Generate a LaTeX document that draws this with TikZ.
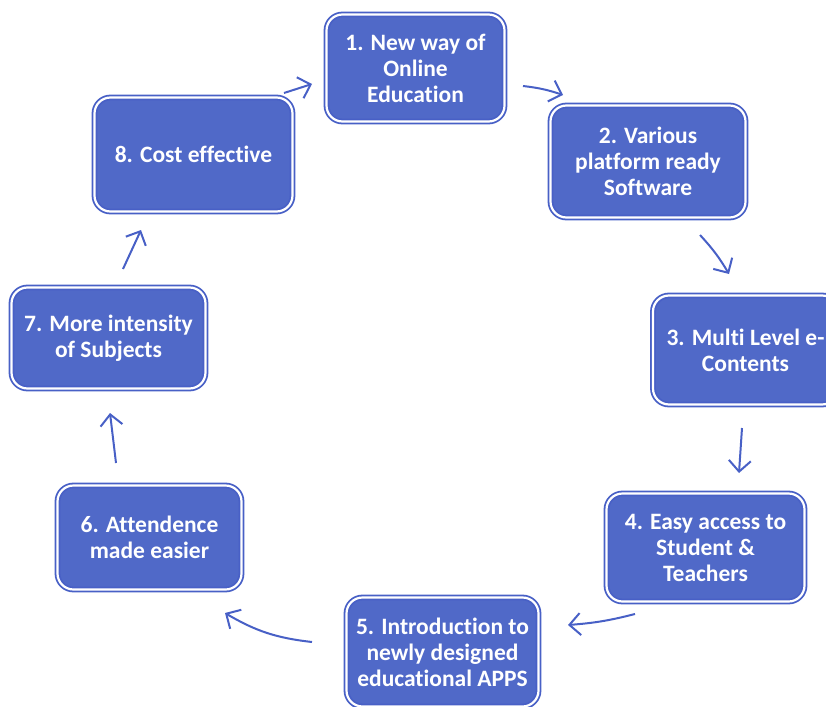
\documentclass[tikz,border=0pt]{standalone}
\usepackage{fontspec}
\setmainfont{Carlito}[RawFeature=-liga]
\usetikzlibrary{arrows.meta,calc}
\definecolor{boxblue}{RGB}{80,105,200}
\definecolor{lineblue}{RGB}{72,96,198}
\tikzset{
  stepbox/.style={rectangle, rounded corners=16pt, fill=boxblue, draw=lineblue,
    line width=1.8pt, double=white, double distance=2.2pt,
    text=white, align=center, inner sep=0pt,
    font=\fontsize{23.5}{26}\selectfont\bfseries},
  flow/.style={draw=lineblue, line width=2pt,
    -{Straight Barb[length=11pt,width=22pt,line width=2pt]}}
}
\begin{document}
\begin{tikzpicture}[x=1pt,y=-1pt]
\clip (0,0) rectangle (826,706);
\useasboundingbox (0,0) rectangle (826,706);
\node[stepbox, minimum width=178pt, minimum height=107pt] (n1) at (415.5,68) {1. New way of\\Online\\Education};
\node[stepbox, minimum width=195pt, minimum height=112pt] (n2) at (648,161.5) {2. Various\\platform ready\\Software};
\node[stepbox, minimum width=185pt, minimum height=109pt] (n3) at (745.5,350) {3. Multi Level e-\\Contents};
\node[stepbox, minimum width=198pt, minimum height=108pt] (n4) at (705.5,547.5) {4. Easy access to\\Student \&\\Teachers};
\node[stepbox, minimum width=192pt, minimum height=109pt] (n5) at (442.5,652) {5. Introduction to\\newly designed\\educational APPS};
\node[stepbox, minimum width=184pt, minimum height=104pt] (n6) at (149.5,537.5) {6. Attendence\\made easier};
\node[stepbox, minimum width=194pt, minimum height=101pt] (n7) at (108.5,338) {7. More intensity\\of Subjects};
\node[stepbox, minimum width=198pt, minimum height=114pt] (n8) at (193.5,154.5) {8. Cost effective};

\draw[flow] ($(n1.center)+(107.5,18)$) to[bend left=6] ($(n2.center)+(-85,-66.5)$);
\draw[flow] ($(n2.center)+(52,73.5)$) to[bend left=6] ($(n3.center)+(-16.5,-76)$);
\draw[flow] ($(n3.center)+(-3.5,78)$) to ($(n4.center)+(33.5,-74.5)$);
\draw[flow] ($(n4.center)+(-70.5,66.5)$) to[bend left=5] ($(n5.center)+(125.5,-27)$);
\draw[flow] ($(n5.center)+(-130.5,-10)$) to[bend left=12] ($(n6.center)+(75.5,75.5)$);
\draw[flow] ($(n6.center)+(-33.5,-74.5)$) to ($(n7.center)+(1.5,75)$);
\draw[flow] ($(n7.center)+(14.5,-69)$) to ($(n8.center)+(-52.5,75.5)$);
\draw[flow] ($(n8.center)+(90.5,-61.5)$) to ($(n1.center)+(-103.5,16)$);
\end{tikzpicture}
\end{document}
